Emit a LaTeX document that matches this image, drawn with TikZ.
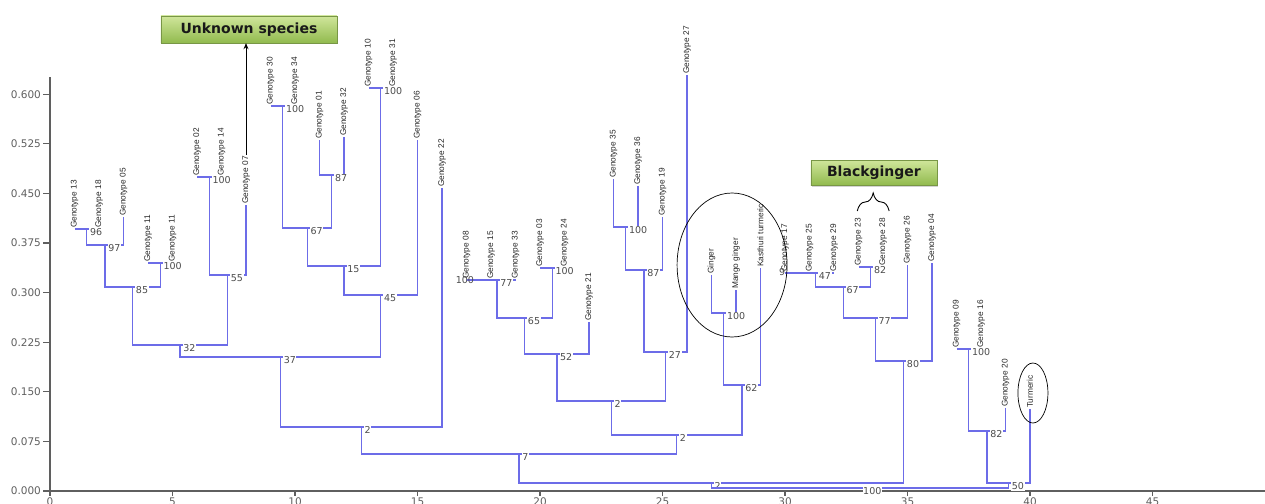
\documentclass[tikz,border=0pt]{standalone}
\usepackage{fontspec}
\setmainfont{Liberation Sans}
\newfontfamily\numfont{DejaVu Sans}
\usetikzlibrary{arrows.meta}
\usetikzlibrary{shadows}
\usetikzlibrary{decorations.pathreplacing}

\definecolor{branchBlue}{RGB}{108,108,232}
\definecolor{axisGray}{RGB}{95,95,95}
\definecolor{tagTop}{RGB}{208,230,155}
\definecolor{tagBot}{RGB}{145,186,78}
\definecolor{tagEdge}{RGB}{120,150,70}

\begin{document}
\begin{tikzpicture}[
    x=24.5pt, y=-1pt,   % x = one leaf, y = one pixel downwards
    branch/.style   = {draw=branchBlue, line width=1.4pt},
    leaf/.style     = {rotate=90, anchor=west, inner sep=1pt, text=black!85,
                       font=\fontsize{8.3}{9}\selectfont},
    boot/.style     = {anchor=north west, fill=white, inner sep=0.6pt,
                       xshift=2.5pt, yshift=1pt, text=black!70,
                       font=\numfont\fontsize{9.5}{10}\selectfont},
    tickLabel/.style = {text=axisGray, inner sep=1.5pt,
                       font=\numfont\fontsize{10.5}{11}\selectfont},
    axisLine/.style = {draw=axisGray, line width=1.2pt},
    tagBox/.style   = {draw=tagEdge, top color=tagTop, bottom color=tagBot,
                       drop shadow={opacity=0.35, shadow xshift=1.5pt, shadow yshift=-1.5pt},
                       text=black!90, font=\numfont\bfseries\fontsize{14}{15}\selectfont},
    ring/.style     = {draw=black, line width=0.7pt},
    ]

    % Determines the boundries (pixels of the figure)
    \path[use as bounding box] (-2.0408,0) rectangle (49.5918,503);

    \def\dash{-}

    % Axes
    \draw[axisLine] (0,77) -- (0,491) -- (49.6,491);
    \foreach \k in {0,...,8}{
        \pgfmathsetmacro\yy{491-49.6*\k}
        \pgfmathsetmacro\vv{0.075*\k}
        \draw[axisLine] (0,\yy) -- (-0.2857,\yy)
            node[tickLabel, anchor=east]
            {\pgfmathprintnumber[fixed,fixed zerofill,precision=3,assume math mode=true]{\vv}};
    }
    \foreach \i in {0,5,...,45}{
        \draw[axisLine] (\i,490) -- (\i,496) node[tickLabel, anchor=north] {\i};
    }

    % Leaves: position / top of stem / name
    \foreach \i/\yTop/\lbl in {
         1/229/Genotype 13,  2/229/Genotype 18,  3/217/Genotype 05,
         4/263/Genotype 11,  5/263/Genotype 11,  6/177/Genotype 02,
         7/177/Genotype 14,  8/205/Genotype 07,  9/106/Genotype 30,
        10/106/Genotype 34, 11/140/Genotype 01, 12/137/Genotype 32,
        13/88/Genotype 10,  14/88/Genotype 31,  15/140/Genotype 06,
        16/188/Genotype 22, 17/280/Genotype 08, 18/280/Genotype 15,
        19/280/Genotype 33, 20/268/Genotype 03, 21/268/Genotype 24,
        22/322/Genotype 21, 23/179/Genotype 35, 24/186/Genotype 36,
        25/217/Genotype 19, 26/75/Genotype 27,  27/275/Ginger,
        28/290/Mango ginger, 29/268/Kasthuri turmeric,
        30/273/Genotype 17, 31/273/Genotype 25, 32/273/Genotype 29,
        33/267/Genotype 23, 34/267/Genotype 28, 35/265/Genotype 26,
        36/263/Genotype 04, 37/349/Genotype 09, 38/349/Genotype 16,
        39/408/Genotype 20, 40/409/Turmeric}{
        \coordinate (l\i) at (\i,\yTop);
        \node[leaf] (t\i) at (l\i) {\lbl};
    }

    % Merges: node / left / right / height / bootstrap
    \foreach \n/\a/\b/\h/\bs in {
        n1/l1/l2/229/96,     n2/n1/l3/245/97,     n3/l4/l5/263/100,
        n4/n2/n3/287/85,     n5/l6/l7/177/100,    n6/n5/l8/275/55,
        n7/n4/n6/345/32,     n8/l9/l10/106/100,   n9/l11/l12/175/87,
        n10/n8/n9/228/67,    n11/l13/l14/88/100,  n12/n10/n11/266/15,
        n13/n12/l15/295/45,  n14/n7/n13/357/37,   n15/n14/l16/427/2,
        n16/l17/l18/280/-,   n17/n16/l19/280/77,  n18/l20/l21/268/100,
        n19/n17/n18/318/65,  n20/n19/l22/354/52,  n21/l23/l24/227/100,
        n22/n21/l25/270/87,  n23/n22/l26/352/27,  n24/n20/n23/401/2,
        n25/l27/l28/313/100, n26/n25/l29/385/62,  n27/n24/n26/435/2,
        n28/n15/n27/454/7,   n29/l30/l31/273/-,   n30/n29/l32/273/47,
        n31/l33/l34/267/82,  n32/n30/n31/287/67,  n33/n32/l35/318/77,
        n34/n33/l36/361/80,  n35/l37/l38/349/100, n36/n35/l39/431/82,
        n37/n36/l40/483/50,  n38/n28/n34/483/2,   n39/n38/n37/488/100}{
        \path (\a) -- (\b) coordinate[pos=0.5] (mid);
        \coordinate (\n) at (mid |- 0,\h);
        \draw[branch] (\a) |- (\n) -| (\b);
        \ifx\bs\dash\else
            \node[boot] at (\n) {\bs};
        \fi
    }

    % stray bootstrap labels
    \node[boot, fill=none] at (16.43,277) {100};
    \node[boot, fill=none] at (29.63,269) {9};

    % Callouts
    \node[tagBox, minimum width=176pt, minimum height=27pt] (unknown) at (8.12,29.5) {Unknown species};
    \node[tagBox, minimum width=126pt, minimum height=25pt] (blackGinger) at (33.63,172.5) {Blackginger};

    \draw[-{Stealth[length=6pt,width=5pt]}, line width=0.9pt] (t8.east) -- (t8.east |- unknown.south);
    \draw[decorate, decoration={brace, amplitude=18pt}, line width=0.9pt] (32.95,211) -- (34.25,211);

    \draw[ring] (27.84,265) ellipse [x radius=55pt, y radius=72pt];
    \draw[ring] (40.12,393) ellipse [x radius=15pt, y radius=30pt];
\end{tikzpicture}
\end{document}
